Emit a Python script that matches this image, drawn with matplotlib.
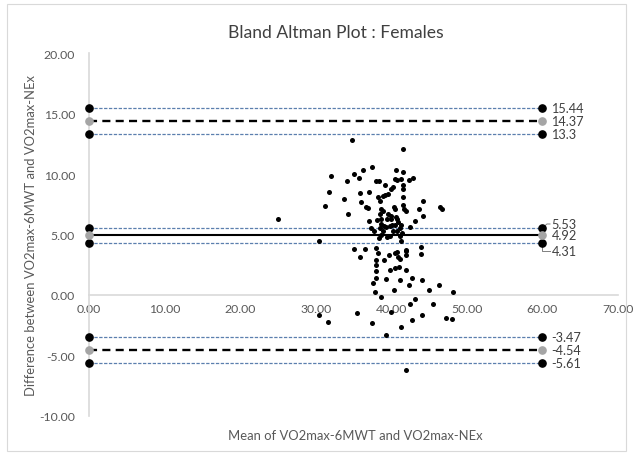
import matplotlib
matplotlib.use("Agg")
import matplotlib.pyplot as plt
from matplotlib.patches import Rectangle

plt.rcParams['font.family'] = ['Lato', 'DejaVu Sans']
plt.rcParams['lines.scale_dashes'] = False

# scatter data: (mean, difference)
mean_vals = [34.8, 41.6, 37.4, 36.3, 35.0, 40.6, 41.6, 32.0, 35.7, 34.1, 38.0, 38.4, 40.5, 40.7, 41.3,
             42.3, 42.9, 39.2, 41.6, 41.5, 40.2, 40.0, 31.8, 35.9, 37.0, 39.6, 39.2, 38.9, 38.3, 41.5,
             44.2, 33.8, 38.5, 36.0, 31.2, 36.7, 36.9, 38.6, 38.9, 40.3, 40.5, 41.5, 41.7, 43.7, 46.4,
             46.7, 34.3, 38.5, 39.6, 40.0, 40.6, 41.9, 44.2, 38.1, 38.7, 39.4, 40.0, 40.7, 37.1, 43.1,
             40.9, 38.6, 39.0, 40.1, 41.3, 42.5, 37.3, 37.7, 38.5, 38.9, 39.3, 39.8, 40.2, 40.5, 40.7,
             41.1, 41.4, 39.8, 39.4, 38.7, 38.4, 41.2, 41.3, 30.4, 43.9, 43.9, 35.0, 36.5, 38.0, 38.2,
             35.8, 39.7, 40.5, 40.9, 41.2, 40.8, 41.9, 42.0, 42.0, 38.0, 39.1, 38.0, 38.0, 39.8, 40.5,
             41.0, 42.0, 39.3, 38.0, 41.1, 42.8, 44.0, 37.6, 42.3, 40.3, 45.0, 46.3, 48.2, 37.8, 38.7,
             30.4, 31.6, 35.5, 37.5, 39.3, 40.0, 43.2, 42.5, 45.5, 44.1, 42.7, 47.3, 48.1, 41.3, 41.9,
             25.0]
diff_vals = [12.8, 12.1, 10.6, 10.3, 10.0, 10.3, 10.2, 9.8, 9.7, 9.4, 9.45, 9.4, 9.6, 9.5, 9.55,
             9.5, 9.7, 9.1, 9.1, 8.76, 8.9, 8.76, 8.5, 8.4, 8.55, 8.35, 8.25, 8.2, 8.07, 8.07,
             7.8, 7.9, 7.8, 7.66, 7.36, 7.3, 7.2, 7.1, 6.94, 7.24, 7.1, 7.44, 7.1, 7.07, 7.3,
             7.1, 6.72, 6.7, 6.7, 6.55, 6.42, 6.94, 6.56, 6.2, 6.25, 6.3, 6.25, 6.3, 6.1, 6.15,
             6.06, 5.87, 5.73, 5.79, 5.75, 5.6, 5.5, 5.3, 5.5, 5.25, 5.6, 5.7, 5.3, 5.8, 5.3,
             5.5, 5.1, 4.9, 4.8, 5.0, 4.7, 4.9, 4.5, 4.5, 3.97, 3.4, 3.8, 3.8, 3.86, 3.45,
             3.1, 3.3, 3.47, 3.15, 2.98, 3.53, 3.72, 3.33, 3.67, 2.9, 2.92, 2.5, 1.96, 2.07, 2.2,
             2.35, 2.07, 1.35, 1.38, 1.2, 1.4, 1.27, 0.99, 0.8, 0.44, 0.39, 0.83, 0.25, 0.22, -0.17,
             -1.63, -2.26, -1.51, -2.28, -3.3, -1.43, -0.33, -0.74, -0.72, -1.63, -2.1, -1.88, -1.96, -2.67, -6.2,
             6.3]

# agreement lines
line_x = [0, 60]
mean_diff = 4.92
mean_ci = [4.31, 5.53]
upper_loa = 14.37
upper_ci = [13.3, 15.44]
lower_loa = -4.54
lower_ci = [-5.61, -3.47]

x_ticks = [0, 10, 20, 30, 40, 50, 60, 70]
y_ticks = [-10, -5, 0, 5, 10, 15, 20]

W, H = 633, 456
fig = plt.figure(figsize=(W / 100, H / 100), dpi=100)
ax = fig.add_axes([89 / W, 1 - 417 / H, 529 / W, 363 / H])
fig.patches.append(Rectangle((7 / W, 4 / H), 619 / W, 447 / H, transform=fig.transFigure,
                             fill=False, edgecolor='#D9D9D9', linewidth=0.8))

ci_color = '#5B7FAE'
gray_dot = '#A5A5A5'
ms = 5.2
for v in upper_ci + mean_ci + lower_ci:
    ax.plot(line_x, [v, v], color=ci_color, lw=0.9, dashes=(2.4, 1.1), marker='o', ms=ms,
            mfc='black', mec='black', zorder=3, clip_on=False)
for v in [upper_loa, lower_loa]:
    ax.plot(line_x, [v, v], color='black', lw=1.7, dashes=(5.8, 3.8), marker='o', ms=ms,
            mfc=gray_dot, mec=gray_dot, zorder=3, clip_on=False)
ax.plot(line_x, [mean_diff, mean_diff], color='black', lw=1.5, marker='o', ms=ms,
        mfc=gray_dot, mec=gray_dot, zorder=3, clip_on=False)

ax.scatter(mean_vals, diff_vals, s=13, color='black', zorder=4, linewidths=0)

lab_kw = dict(fontsize=9.2, color='#404040', va='center', ha='left')
for v in [upper_ci[1], upper_loa, upper_ci[0], lower_ci[1], lower_loa, lower_ci[0]]:
    ax.text(61.2, v, f"{v:g}", **lab_kw)
ax.text(61.2, 5.87, "5.53", **lab_kw)
ax.text(61.2, mean_diff, "4.92", **lab_kw)
ax.text(61.2, 3.6, "4.31", **lab_kw)
ax.plot([60.2, 60.6, 61.0], [5.65, 5.87, 5.87], color='#808080', lw=0.7, zorder=2)
ax.plot([60.0, 60.0, 61.0], [4.1, 3.6, 3.6], color='#808080', lw=0.7, zorder=2)

ax.set_xlim(0, 70)
ax.set_ylim(-10, 20)
for s in ['top', 'right']:
    ax.spines[s].set_visible(False)
ax.spines['bottom'].set_position(('data', 0))
ax.spines['bottom'].set_color('#D9D9D9')
ax.spines['left'].set_color('#D9D9D9')
ax.spines['bottom'].set_linewidth(1.2)
ax.spines['left'].set_linewidth(1.2)
ax.set_xticks(x_ticks)
ax.set_yticks(y_ticks)
ax.set_xticklabels([f"{t:.2f}" for t in x_ticks])
ax.set_yticklabels([f"{t:.2f}" for t in y_ticks])
ax.tick_params(length=0, labelsize=8.8, labelcolor='#595959')
ax.tick_params(axis='x', pad=6)
ax.tick_params(axis='y', pad=10)
ax.patch.set_alpha(0)

fig.text(336 / W, 1 - 33 / H, "Bland Altman Plot : Females", ha='center', va='center',
         fontsize=12.6, color='#404040')
fig.text(355 / W, 1 - 436 / H, "Mean of VO2max-6MWT and VO2max-NEx", ha='center', va='center',
         fontsize=9.4, color='#595959')
fig.text(31 / W, 1 - 235 / H, "Difference between VO2max-6MWT and VO2max-NEx", ha='center',
         va='center', rotation=90, fontsize=9.4, color='#595959')

fig.savefig("out.png", dpi=100)
